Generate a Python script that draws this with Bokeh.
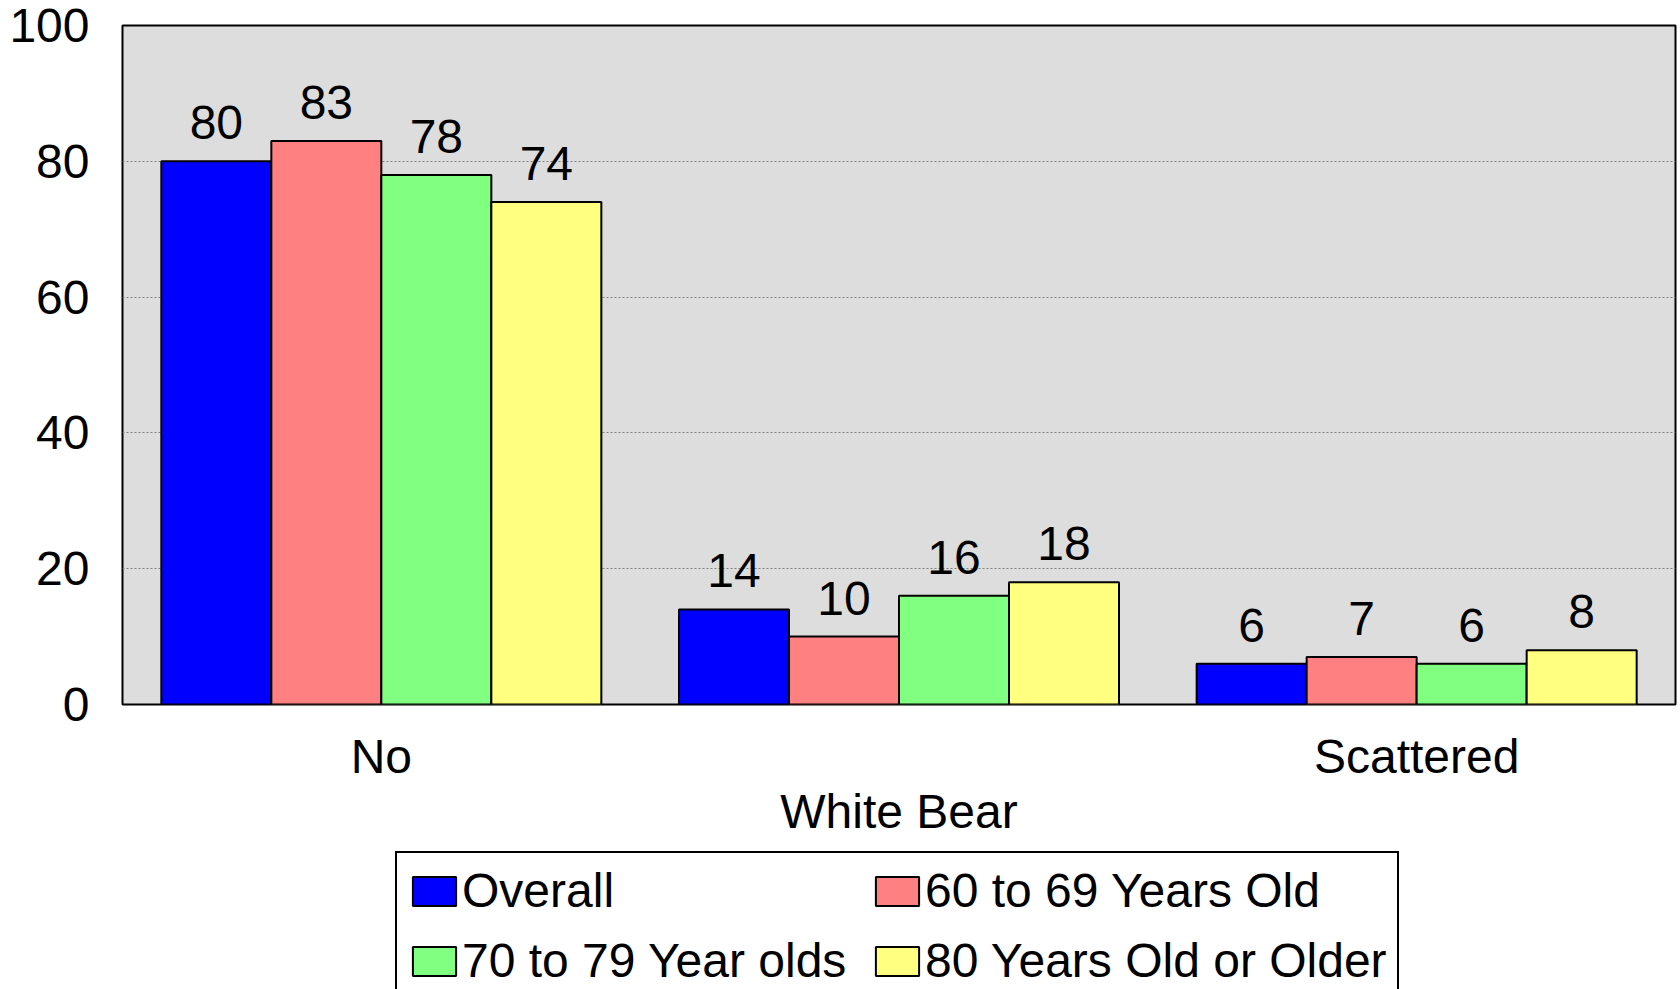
from bokeh.plotting import figure
from bokeh.layouts import column
from bokeh.models import (ColumnDataSource, Range1d, FixedTicker, LinearAxis,
                          Legend, LegendItem, LabelSet, Grid)
from bokeh.core.properties import value
from bokeh.embed import file_html
from bokeh.resources import INLINE

# ---- data ----
categories = ["No", "White Bear", "Scattered"]
series_names = ["Overall", "60 to 69 Years Old", "70 to 79 Year olds", "80 Years Old or Older"]
overall = [80, 14, 6]
years_60_69 = [83, 10, 7]
years_70_79 = [78, 16, 6]
years_80_plus = [74, 18, 8]
y_ticks = [0, 20, 40, 60, 80, 100]

# ---- style ----
colors = ["#0000FF", "#FF8080", "#80FF80", "#FFFF80"]
FONT = "Liberation Sans"
FS = "48px"
W = 1680
H_TOP = 851
H_BOTTOM = 989 - H_TOP
LEFT = 122

p = figure(width=W, height=H_TOP, output_backend="svg", toolbar_location=None,
           x_range=Range1d(-0.5, len(categories) - 0.5), y_range=Range1d(0, 100),
           min_border_left=LEFT, min_border_right=5, min_border_top=25,
           min_border_bottom=H_TOP - 704, x_axis_type=None, y_axis_type=None)
p.background_fill_color = "#DDDDDD"
p.border_fill_color = "white"
p.outline_line_color = "black"
p.outline_line_width = 2

series = [overall, years_60_69, years_70_79, years_80_plus]
n = len(series)
bar_w = 0.2125
offsets = [(k - (n - 1) / 2) * bar_w for k in range(n)]

sources = []
for name, vals, col, off in zip(series_names, series, colors, offsets):
    src = ColumnDataSource(dict(x=[i + off for i in range(len(categories))],
                                top=vals, label=[str(v) for v in vals]))
    sources.append(src)
    p.vbar(x="x", top="top", bottom=0, width=bar_w, source=src,
           fill_color=col, line_color="black", line_width=2)
    p.add_layout(LabelSet(x="x", y="top", text="label", source=src,
                          text_align="center", text_baseline="alphabetic",
                          y_offset=22, text_font_size=value(FS),
                          text_font=value(FONT), text_color="black"))

yaxis = LinearAxis(ticker=FixedTicker(ticks=y_ticks),
                   major_label_text_font_size=FS, major_label_text_font=FONT,
                   major_label_text_color="black",
                   major_tick_line_color=None, minor_tick_line_color=None,
                   axis_line_color=None, major_label_standoff=27)
p.add_layout(yaxis, "left")
p.add_layout(Grid(dimension=1, ticker=yaxis.ticker, grid_line_color="#808080",
                  grid_line_dash="2 2", grid_line_width=1))

idx = list(range(len(categories)))
x1 = [i for i in idx if i % 2 == 0]
x2 = [i for i in idx if i % 2 == 1]
xaxis1 = LinearAxis(ticker=FixedTicker(ticks=x1),
                    major_label_overrides={i: categories[i] for i in x1},
                    major_label_text_font_size=FS, major_label_text_font=FONT,
                    major_label_text_color="black",
                    major_tick_line_color=None, minor_tick_line_color=None,
                    axis_line_color=None, major_label_standoff=19)
p.add_layout(xaxis1, "below")
xaxis2 = LinearAxis(ticker=FixedTicker(ticks=x2),
                    major_label_overrides={i: categories[i] for i in x2},
                    major_label_text_font_size=FS, major_label_text_font=FONT,
                    major_label_text_color="black",
                    major_tick_line_color=None, minor_tick_line_color=None,
                    axis_line_color=None, major_label_standoff=-7)
p.add_layout(xaxis2, "below")

# ---- legend panel (separate strip under the chart) ----
q = figure(width=W, height=H_BOTTOM, output_backend="svg", toolbar_location=None,
           x_range=Range1d(-0.5, len(categories) - 0.5), y_range=Range1d(0, 100),
           min_border_left=LEFT, min_border_right=0, min_border_top=0,
           min_border_bottom=0, x_axis_type=None, y_axis_type=None)
q.outline_line_color = None
q.background_fill_color = "white"
q.border_fill_color = "white"
q.xgrid.visible = False
q.ygrid.visible = False

items = []
for name, col, src in zip(series_names, colors, sources):
    r = q.vbar(x="x", top="top", bottom=0, width=bar_w, source=src,
               fill_color=col, line_color="black", line_width=2, visible=False)
    items.append(LegendItem(label=name, renderers=[r]))

LEG_H = 147
legend = Legend(items=items, orientation="horizontal", ncols=2,
                location=(395 - LEFT, H_BOTTOM - 2 - LEG_H),
                label_text_font_size=FS, label_text_font=FONT,
                label_text_color="black",
                glyph_width=54, glyph_height=36, label_standoff=1,
                label_width=393, spacing=15, padding=10,
                border_line_color="black", border_line_width=2,
                border_line_alpha=1.0,
                background_fill_color="white", background_fill_alpha=1.0)
q.add_layout(legend, "center")

layout = column(p, q, spacing=0)
open("out.html", "w").write(file_html(layout, INLINE))
